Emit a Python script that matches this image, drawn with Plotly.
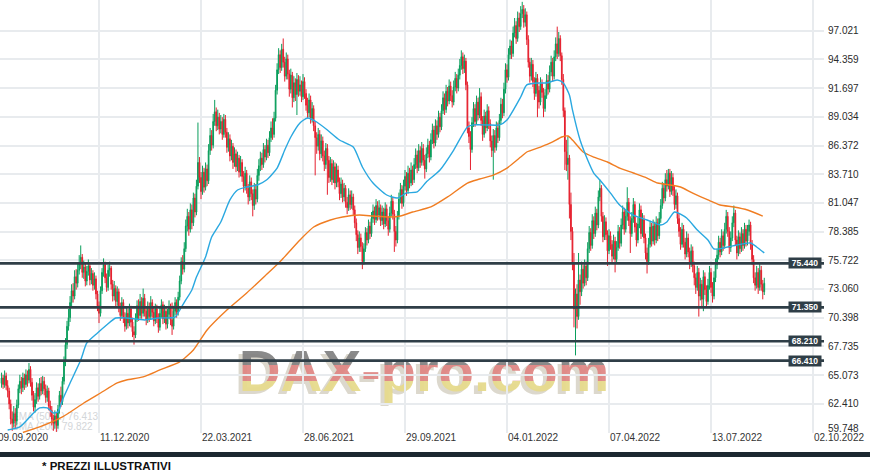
import plotly.graph_objects as go

# ---------------- data ----------------
first_open = 64.3

close = [
    64.8, 64.2, 65.0, 64.1, 63.6, 62.4, 61.0, 60.6, 61.5, 60.8,
    62.3, 63.8, 64.5, 63.9, 64.8, 64.2, 65.1, 64.6, 65.6, 64.4,
    63.2, 62.1, 62.8, 63.9, 63.1, 64.3, 63.6, 64.5, 63.8, 63.0,
    63.6, 62.2, 61.8, 61.0, 60.6, 61.3, 60.4, 61.9, 63.2, 62.6,
    64.5, 66.3, 67.9, 69.6, 70.4, 71.8, 72.9, 72.4, 74.2, 73.6,
    74.8, 75.4, 76.0, 74.6, 75.1, 73.8, 74.7, 75.2, 73.9, 74.5,
    73.4, 74.0, 72.6, 71.5, 70.8, 72.9, 74.6, 75.3, 74.1, 73.2,
    74.8, 75.0, 73.5, 72.4, 73.1, 71.9, 72.8, 71.4, 70.6, 71.8,
    70.4, 69.6, 70.8, 69.9, 71.2, 70.0, 69.1, 68.8, 70.3, 71.5,
    70.6, 71.9, 70.8, 72.2, 71.0, 70.2, 71.4, 70.5, 71.8, 70.9,
    70.1, 71.2, 70.4, 69.5, 70.8, 71.6, 70.3, 71.0, 69.8, 70.7,
    71.4, 70.2, 69.6, 71.0, 71.8, 70.9, 72.3, 73.8, 75.6, 74.9,
    76.8, 78.9, 79.8, 78.6, 80.4, 79.2, 81.5, 80.2, 82.6, 84.8,
    83.4, 82.1, 83.9, 82.5, 84.2, 83.1, 85.9, 87.3, 86.4, 88.6,
    89.5, 88.2, 89.0, 87.9, 88.6, 87.4, 88.8, 87.6, 86.2, 87.0,
    85.4, 86.3, 84.8, 85.6, 84.4, 85.2, 83.9, 84.8, 83.5, 82.6,
    83.8, 82.4, 81.6, 83.0, 81.9, 80.8, 82.3, 81.4, 83.6, 84.5,
    85.2, 84.6, 86.0, 85.3, 86.4, 85.7, 87.1, 88.0, 87.4, 88.9,
    91.5, 93.4, 94.8, 93.6, 95.3, 94.1, 92.8, 94.4, 93.0, 91.6,
    92.9, 90.8, 92.2, 91.1, 92.5, 91.4, 92.0, 90.9, 92.3, 91.2,
    90.1, 89.4, 90.6, 88.9, 89.8, 88.2, 87.1, 86.3, 87.4, 85.6,
    86.8, 85.4, 84.6, 86.1, 85.0, 83.4, 84.7, 83.2, 84.4, 82.9,
    84.1, 83.0, 81.9, 82.8, 81.6, 82.4, 81.1, 80.6, 81.8, 80.9,
    81.6, 80.4, 79.2, 78.1, 76.9, 77.8, 77.0, 75.6, 76.8, 78.3,
    77.6, 78.9, 78.2, 79.6, 80.3, 79.5, 80.8, 79.9, 80.6, 79.4,
    80.2, 79.1, 80.5, 79.4, 78.6, 80.1, 81.2, 80.0, 78.4, 77.6,
    79.8, 81.4, 82.3, 81.0, 82.6, 83.5, 82.2, 83.8, 82.9, 84.1,
    83.2, 84.6, 85.5, 84.3, 85.9, 84.8, 86.1, 85.0, 84.2, 85.6,
    86.4, 85.3, 86.9, 87.8, 86.6, 88.2, 87.4, 89.0, 88.1, 89.6,
    90.8, 89.7, 91.4, 90.5, 91.9, 91.0, 90.4, 91.8, 92.6, 91.7,
    92.9, 93.8, 94.6, 93.5, 94.2, 92.0, 88.0, 87.2, 86.0, 88.5,
    89.8, 88.6, 90.4, 89.2, 90.9, 88.7, 87.4, 89.1, 88.0, 89.6,
    88.4, 86.8, 85.9, 87.3, 86.2, 88.0, 87.1, 88.7, 90.2, 89.4,
    91.6, 93.4, 92.7, 94.8, 95.6, 94.9, 96.8, 97.5, 96.3, 98.2,
    97.4, 98.6, 99.0, 97.8, 98.5, 96.2, 94.1, 92.8, 93.9, 92.3,
    91.2, 92.6, 91.5, 90.4, 92.1, 91.3, 89.8, 91.0, 92.4, 91.6,
    93.2, 94.1, 92.8, 94.6, 95.8, 94.9, 96.3, 94.7, 92.5, 89.6,
    85.8, 84.6, 85.2, 80.9, 78.4, 75.5, 71.2, 72.6, 70.5, 73.9,
    72.8, 74.9, 73.6, 75.2, 74.1, 76.8, 78.3, 77.1, 79.4, 78.2,
    80.1, 79.0, 81.6, 82.4, 79.8, 77.9, 79.3, 78.1, 76.6, 78.0,
    77.2, 76.1, 77.5, 75.8, 76.9, 78.4, 77.3, 79.0, 80.2, 78.6,
    79.8, 81.1, 79.4, 78.2, 79.6, 80.9, 78.8, 77.6, 79.1, 80.4,
    78.2, 79.5, 77.8, 76.4, 75.6, 77.2, 78.8, 77.5, 78.9, 77.6,
    79.2, 78.0, 79.6, 80.8, 82.4, 81.5, 83.2, 82.6, 83.8, 82.1,
    83.4, 82.2, 80.9, 81.7, 79.6, 78.4, 77.2, 78.6, 77.4, 76.3,
    77.8, 76.5, 75.4, 76.6, 75.2, 74.1, 73.2, 74.6, 72.4, 73.5,
    72.1, 74.2, 73.0, 71.9, 73.4, 74.6, 73.2, 72.4, 74.1, 75.3,
    76.2, 77.4, 76.5, 78.0, 77.1, 78.6, 79.8, 78.4, 76.9, 77.8,
    79.2, 80.1, 77.6, 76.4, 77.9, 76.8, 78.2, 77.1, 78.6, 77.5,
    78.4, 79.0, 77.2, 75.8, 74.1, 73.4, 74.6, 73.2, 74.8, 73.5,
    72.8, 73.6,
]

high = [
    65.3, 65.1, 65.5, 65.3, 64.6, 63.9, 62.8, 61.7, 62.2, 62.0,
    62.8, 64.2, 65.1, 64.9, 65.3, 65.2, 65.6, 65.5, 66.2, 65.9,
    64.8, 63.6, 63.4, 64.4, 64.3, 64.8, 64.9, 65.0, 64.9, 64.2,
    64.1, 63.9, 62.7, 62.2, 61.4, 61.8, 61.6, 62.3, 63.6, 64.0,
    64.9, 66.8, 68.5, 70.1, 71.2, 72.4, 73.5, 73.6, 74.8, 74.9,
    75.4, 76.2, 77.1, 76.3, 75.7, 75.4, 75.2, 75.8, 75.5, 75.0,
    74.8, 74.6, 74.3, 72.9, 71.9, 73.3, 75.0, 75.9, 75.6, 74.5,
    75.3, 75.6, 75.2, 73.9, 73.8, 73.4, 73.3, 73.1, 71.8, 72.3,
    72.1, 70.9, 71.3, 71.2, 71.7, 71.5, 70.4, 69.6, 70.8, 72.0,
    72.1, 72.6, 72.3, 73.1, 72.6, 71.4, 71.9, 71.8, 72.4, 72.1,
    71.3, 71.7, 71.6, 70.8, 71.3, 72.1, 71.9, 71.6, 71.3, 71.2,
    72.0, 71.7, 71.8, 71.5, 72.3, 72.1, 72.8, 74.3, 76.0, 76.2,
    77.4, 79.5, 80.5, 80.2, 81.0, 80.9, 82.0, 81.9, 83.2, 88.5,
    85.3, 83.9, 84.5, 84.3, 84.8, 84.6, 86.5, 88.0, 87.8, 89.3,
    90.6, 89.9, 89.7, 89.4, 89.2, 89.0, 89.3, 89.2, 88.0, 87.6,
    87.4, 86.9, 86.6, 86.2, 86.0, 85.8, 85.5, 85.4, 85.1, 84.0,
    84.4, 84.1, 82.8, 83.6, 83.4, 82.3, 82.9, 82.8, 84.2, 85.1,
    85.8, 85.7, 86.6, 86.4, 87.0, 86.9, 87.7, 88.6, 88.9, 89.5,
    92.0, 94.0, 95.4, 95.2, 95.8, 96.3, 94.6, 95.0, 94.8, 93.4,
    93.5, 93.2, 92.8, 92.6, 93.1, 92.9, 92.8, 92.4, 93.0, 92.7,
    91.6, 90.8, 91.2, 91.0, 90.4, 90.1, 88.6, 87.6, 88.0, 87.8,
    87.4, 87.2, 85.9, 86.6, 86.5, 85.4, 85.3, 85.1, 85.0, 84.8,
    84.7, 84.5, 83.4, 83.4, 83.2, 82.9, 82.7, 81.6, 82.4, 82.2,
    82.2, 81.9, 80.8, 79.6, 78.5, 78.4, 78.2, 77.4, 77.3, 78.8,
    78.7, 79.5, 79.3, 80.2, 80.9, 80.7, 81.4, 81.2, 81.3, 80.9,
    80.8, 80.6, 81.1, 80.9, 79.8, 80.7, 81.8, 81.6, 80.4, 78.9,
    80.3, 82.0, 82.9, 82.7, 83.2, 84.1, 83.9, 84.5, 84.3, 84.8,
    84.5, 85.2, 86.1, 85.9, 86.5, 86.3, 86.7, 86.5, 85.5, 86.2,
    87.0, 86.8, 87.5, 88.4, 88.2, 88.8, 88.7, 89.6, 89.4, 90.2,
    91.4, 91.2, 92.0, 91.8, 92.5, 92.3, 91.5, 92.4, 93.2, 93.0,
    93.5, 94.4, 95.2, 95.0, 94.8, 94.5, 92.3, 88.6, 87.7, 89.0,
    90.4, 90.2, 91.0, 90.8, 91.7, 91.3, 89.1, 89.7, 89.5, 90.2,
    90.0, 88.8, 87.3, 87.9, 87.8, 88.6, 88.5, 89.3, 90.8, 90.7,
    92.2, 94.0, 93.9, 95.4, 96.2, 96.1, 97.4, 98.2, 97.9, 98.8,
    98.7, 99.3, 99.7, 99.4, 99.1, 98.8, 96.6, 94.5, 94.5, 94.3,
    92.7, 93.2, 93.0, 91.9, 92.7, 92.5, 91.7, 91.6, 93.0, 92.9,
    93.8, 94.7, 94.5, 95.2, 96.4, 97.4, 96.9, 96.6, 95.0, 93.0,
    89.9, 86.9, 87.2, 85.5, 82.0, 78.8, 76.4, 73.1, 73.5, 76.4,
    74.4, 75.6, 75.3, 75.8, 75.6, 77.4, 78.9, 78.7, 80.0, 79.8,
    80.7, 80.5, 82.2, 83.2, 82.7, 80.2, 79.9, 79.7, 78.5, 78.6,
    78.4, 77.6, 78.1, 77.9, 77.5, 79.0, 78.8, 79.6, 80.8, 80.6,
    80.4, 82.5, 81.5, 79.8, 80.2, 81.5, 81.2, 79.2, 79.7, 81.0,
    80.8, 80.1, 79.9, 78.2, 76.9, 77.8, 79.4, 79.2, 79.5, 79.3,
    79.8, 79.6, 80.2, 81.4, 83.0, 82.9, 83.8, 84.1, 84.2, 84.2,
    84.0, 83.8, 82.6, 82.3, 82.0, 80.0, 78.8, 79.2, 79.0, 77.8,
    78.4, 78.2, 76.9, 77.2, 77.0, 75.6, 74.5, 75.2, 75.0, 74.1,
    73.9, 74.8, 74.6, 73.4, 74.0, 75.2, 75.0, 73.7, 74.7, 75.9,
    76.8, 78.0, 77.8, 78.6, 78.4, 79.2, 80.4, 80.2, 78.8, 78.4,
    79.8, 80.8, 80.4, 78.0, 78.5, 78.3, 78.8, 78.6, 79.2, 79.0,
    79.0, 79.5, 79.3, 77.6, 76.2, 74.6, 75.2, 75.0, 75.4, 75.2,
    73.9, 74.1,
]

low = [
    63.9, 63.8, 63.9, 63.7, 63.0, 61.9, 60.5, 59.9, 60.2, 60.1,
    60.4, 62.0, 63.4, 63.3, 63.5, 63.7, 63.9, 64.0, 64.3, 64.0,
    62.7, 61.7, 61.6, 62.4, 62.6, 62.8, 63.2, 63.3, 63.2, 62.5,
    62.6, 61.8, 61.2, 60.4, 59.9, 60.1, 59.8, 60.1, 61.5, 62.1,
    62.3, 64.2, 65.9, 67.5, 69.2, 70.0, 71.4, 71.8, 72.1, 73.0,
    73.2, 74.4, 74.9, 74.1, 74.0, 73.3, 73.4, 74.3, 73.4, 73.5,
    72.9, 73.0, 72.1, 71.0, 69.9, 70.5, 72.6, 74.2, 73.6, 72.8,
    72.9, 74.2, 73.0, 71.9, 72.0, 71.4, 71.5, 70.9, 70.1, 70.3,
    69.9, 69.1, 69.3, 69.4, 69.6, 69.5, 68.6, 67.9, 68.5, 70.0,
    70.1, 70.3, 70.3, 70.5, 70.5, 69.7, 69.9, 70.0, 70.2, 70.4,
    69.6, 69.8, 69.9, 69.0, 69.2, 70.4, 69.8, 69.9, 69.3, 69.4,
    70.3, 69.7, 68.8, 69.3, 70.6, 70.4, 70.6, 72.0, 73.5, 74.4,
    74.6, 76.5, 78.4, 78.0, 78.3, 78.6, 78.9, 79.7, 79.9, 82.3,
    82.9, 81.4, 81.8, 82.0, 82.2, 82.6, 82.8, 85.5, 85.9, 86.1,
    88.2, 87.7, 87.8, 87.4, 87.5, 86.9, 87.1, 87.1, 85.7, 85.8,
    84.9, 85.0, 84.2, 84.4, 83.9, 84.0, 83.4, 83.5, 83.0, 82.0,
    82.2, 81.9, 80.9, 81.2, 81.3, 79.8, 80.4, 80.9, 81.1, 83.1,
    84.0, 84.1, 84.3, 84.8, 85.0, 85.2, 85.4, 86.7, 86.9, 87.1,
    88.6, 91.1, 93.0, 93.1, 93.3, 93.6, 92.3, 92.5, 92.5, 90.9,
    91.2, 89.9, 90.4, 90.5, 89.2, 90.9, 91.0, 90.4, 90.6, 90.7,
    89.6, 88.9, 89.0, 88.4, 88.5, 87.7, 83.6, 85.6, 85.9, 85.0,
    85.2, 84.9, 84.0, 84.2, 81.8, 82.9, 83.0, 82.7, 82.9, 82.3,
    82.5, 82.5, 81.3, 81.5, 81.1, 81.2, 80.6, 80.0, 80.3, 80.4,
    80.5, 79.9, 78.7, 77.5, 76.3, 76.5, 76.5, 74.9, 75.3, 76.5,
    77.1, 77.3, 77.7, 77.9, 79.2, 79.0, 79.2, 79.4, 79.5, 78.9,
    79.0, 78.6, 78.8, 78.9, 78.0, 78.3, 79.8, 79.5, 76.5, 77.0,
    77.3, 79.5, 81.0, 80.5, 80.7, 82.2, 81.7, 81.9, 82.4, 82.6,
    82.7, 82.9, 84.2, 83.8, 84.0, 84.3, 84.5, 84.5, 83.3, 83.9,
    85.2, 84.8, 85.0, 86.5, 86.1, 86.3, 86.9, 87.1, 87.6, 87.8,
    89.3, 89.2, 89.4, 90.0, 90.2, 90.5, 89.9, 90.1, 91.4, 91.2,
    91.4, 92.5, 93.4, 93.0, 93.1, 91.5, 87.5, 86.6, 84.1, 85.7,
    88.1, 88.1, 88.3, 88.7, 88.9, 88.2, 86.8, 87.1, 87.5, 87.7,
    87.9, 86.2, 85.3, 83.2, 85.7, 85.9, 86.6, 86.8, 88.3, 88.9,
    89.1, 91.2, 92.2, 92.4, 94.4, 94.4, 94.6, 96.4, 95.8, 96.0,
    96.9, 97.1, 98.2, 97.3, 97.4, 95.7, 93.6, 92.2, 92.4, 91.8,
    90.6, 90.9, 89.0, 89.8, 90.1, 90.8, 89.0, 89.5, 90.7, 91.1,
    91.3, 92.8, 92.3, 92.5, 94.2, 94.4, 94.6, 94.2, 92.0, 89.0,
    84.1, 84.0, 83.2, 79.6, 77.6, 74.8, 69.5, 66.9, 69.4, 70.2,
    71.6, 72.4, 73.1, 73.3, 73.4, 73.8, 76.4, 76.6, 76.8, 77.7,
    77.9, 78.5, 78.7, 81.2, 79.3, 77.4, 77.6, 77.6, 75.2, 76.3,
    76.7, 75.5, 75.8, 74.6, 75.5, 76.6, 76.8, 77.0, 78.6, 78.1,
    78.3, 79.4, 78.9, 76.4, 77.9, 79.2, 78.3, 77.0, 77.3, 78.7,
    77.7, 77.9, 77.3, 75.8, 74.5, 75.3, 76.9, 77.0, 77.2, 77.1,
    77.3, 77.5, 77.7, 79.2, 80.5, 81.0, 81.2, 82.1, 82.3, 81.6,
    81.8, 81.7, 80.4, 80.5, 79.1, 77.9, 76.7, 76.9, 76.9, 75.8,
    76.0, 76.0, 74.9, 75.1, 74.6, 73.4, 72.6, 72.9, 70.5, 72.0,
    71.4, 71.0, 72.5, 71.3, 71.6, 73.0, 72.7, 71.8, 72.1, 73.7,
    74.9, 75.8, 76.0, 76.2, 76.6, 76.8, 78.2, 77.9, 76.3, 76.5,
    77.5, 78.8, 77.1, 75.8, 76.1, 76.3, 76.5, 76.6, 76.8, 77.0,
    77.1, 78.0, 76.7, 75.3, 73.6, 72.9, 73.1, 72.6, 72.9, 72.9,
    72.1, 72.5,
]

# EMA(50) and SMA(200) lines (bar index, value)
ema_idx = [4, 12, 21, 25, 30, 34, 37, 40, 45, 52, 56, 63, 69, 75, 82, 94, 103, 114, 117,
           121, 125, 128, 134, 138, 144, 150, 155, 161, 168, 174, 181, 186, 190, 196, 201,
           207, 214, 222, 231, 237, 244, 253, 260, 266, 273, 279, 288, 297, 306, 310, 319,
           327, 332, 341, 345, 354, 358, 365, 369, 373, 375, 380, 385, 389, 393, 400, 406,
           415, 424, 433, 437, 442, 450, 457, 464, 468, 474, 483, 492, 496, 501]
ema_val = [59.98, 60.26, 61.56, 62.03, 62.03, 61.56, 61.66, 62.77, 64.34, 66.47, 68.05,
           68.98, 69.72, 70.37, 70.37, 70.19, 70.37, 70.46, 71.11, 72.04, 72.97, 74.17,
           76.03, 77.88, 79.27, 81.32, 82.24, 82.52, 82.71, 83.17, 84.28, 85.95, 87.16,
           88.46, 88.92, 88.55, 87.81, 86.88, 86.23, 84.38, 82.89, 81.78, 81.50, 81.97,
           82.06, 82.98, 84.10, 85.95, 88.09, 88.28, 88.28, 88.28, 88.74, 90.87, 91.99,
           92.17, 92.17, 92.45, 92.17, 91.06, 89.67, 86.88, 85.03, 83.82, 83.17, 81.96,
           80.85, 79.92, 79.46, 79.00, 79.27, 80.20, 79.65, 78.53, 77.60, 76.77, 76.86,
           77.14, 77.33, 76.96, 76.41]

sma_idx = [14, 25, 40, 54, 65, 76, 82, 93, 104, 117, 126, 135, 148, 161, 173, 184, 196,
           205, 216, 224, 235, 244, 255, 262, 270, 282, 293, 306, 314, 323, 332, 341, 345,
           354, 362, 368, 372, 375, 382, 389, 398, 406, 415, 424, 431, 439, 446, 454, 464,
           472, 481, 490, 500]
sma_val = [59.75, 60.26, 61.19, 62.48, 63.41, 64.34, 64.62, 64.90, 65.55, 66.29, 67.40,
           69.26, 71.11, 72.69, 74.27, 75.76, 77.60, 78.81, 79.46, 79.74, 79.92, 79.83,
           79.74, 79.83, 80.20, 80.67, 81.60, 82.89, 83.26, 83.63, 84.28, 85.30, 85.77,
           86.23, 86.70, 87.16, 87.25, 86.88, 85.77, 85.30, 84.84, 84.28, 83.82, 83.35,
           82.89, 82.71, 82.52, 81.96, 81.32, 80.85, 80.67, 80.39, 79.82]

ema_label = "EMA (50, 1) 76.413"
sma_label = "SMA (200) 79.822"

support_levels = [75.440, 71.350, 68.210, 66.410]
support_labels = ["75.440", "71.350", "68.210", "66.410"]

y_ticks = [59.748, 62.410, 65.073, 67.735, 70.398, 73.060, 75.722, 78.385,
           81.047, 83.710, 86.372, 89.034, 91.697, 94.359, 97.021]
y_tick_labels = ["59.748", "62.410", "65.073", "67.735", "70.398", "73.060", "75.722",
                 "78.385", "81.047", "83.710", "86.372", "89.034", "91.697", "94.359", "97.021"]

x_tick_idx = [-3, 64, 131, 198, 265, 332, 399, 466, 533]
x_tick_labels = ["09.09.2020", "11.12.2020", "22.03.2021", "28.06.2021", "29.09.2021",
                 "04.01.2022", "07.04.2022", "13.07.2022", "02.10.2022"]

watermark_text = "DAX-pro.com"
footer_text = "* PREZZI ILLUSTRATIVI"

assert len(close) == len(high) == len(low)

# ---------------- layout constants ----------------
W, H = 870, 475
ML, MR, MT, MB = 0, 46, 0, 42
PW, PH = W - ML - MR, H - MT - MB          # plot area in px
X_RANGE = [-1.03, 540.23]
Y_RANGE = [59.70, 99.87]

def px_x(p):      # pixel x (from plot left) -> paper
    return p / PW

def px_y(p):      # pixel y (from plot top) -> paper
    return (PH - p) / PH

def idx_paper(i):
    return (i - X_RANGE[0]) / (X_RANGE[1] - X_RANGE[0])

opens = [first_open] + close[:-1]
x = list(range(len(close)))

GREEN = "#0a9e5c"
RED = "#e5202e"
DARK = "#2f3e47"
FONT = "Liberation Sans, Arial, sans-serif"
WM_FONT = "Liberation Sans, Arial, sans-serif"
WM_SIZE = 58

fig = go.Figure()

# ---- watermark (behind the chart): shadow + three flag bands, each clipped to its band
wm_x, wm_y = px_x(424), px_y(376)
band_top, band_mid = px_y(365), px_y(381)
bands = [
    ("x", "y", [0, 1], "#dcd8cd", -4, 3),
    ("x2", "y2", [band_top, 1], "rgba(128,128,128,0.92)", 0, 0),
    ("x3", "y3", [band_mid, band_top], "rgba(222,132,130,0.92)", 0, 0),
    ("x4", "y4", [0, band_mid], "rgba(230,218,140,0.95)", 0, 0),
]
for xa, ya, dom, col, dx, dy in bands:
    fig.add_trace(go.Scatter(
        x=[wm_x + dx / PW], y=[wm_y - dy / PH], mode="text", text=[watermark_text],
        textposition="middle center", cliponaxis=True, hoverinfo="skip", showlegend=False,
        textfont=dict(size=WM_SIZE, color=col, family=WM_FONT, weight=700),
        xaxis=xa, yaxis=ya))

# faint legend text (behind candles)
fig.add_trace(go.Scatter(
    x=[px_x(12), px_x(12)], y=[px_y(417), px_y(427)], mode="text",
    text=[ema_label, sma_label], textposition="middle right", cliponaxis=True,
    hoverinfo="skip", showlegend=False,
    textfont=dict(size=10, color="#d3d6d9", family=FONT), xaxis="x", yaxis="y"))

# ---- main chart on x5/y5 (drawn last = on top)
fig.add_trace(go.Candlestick(
    x=x, open=opens, high=high, low=low, close=close,
    increasing=dict(line=dict(color=GREEN, width=1), fillcolor=GREEN),
    decreasing=dict(line=dict(color=RED, width=1), fillcolor=RED),
    whiskerwidth=0, hoverinfo="skip", showlegend=False, xaxis="x5", yaxis="y5"))

fig.add_trace(go.Scatter(x=sma_idx, y=sma_val, mode="lines", line=dict(color="#f07d22", width=1.4, shape="spline", smoothing=0.6),
                         hoverinfo="skip", showlegend=False, xaxis="x5", yaxis="y5"))
fig.add_trace(go.Scatter(x=ema_idx, y=ema_val, mode="lines", line=dict(color="#2aa8e0", width=1.4, shape="spline", smoothing=0.6),
                         hoverinfo="skip", showlegend=False, xaxis="x5", yaxis="y5"))

shapes = []
annotations = []
for lvl, lab in zip(support_levels, support_labels):
    shapes.append(dict(type="line", xref="paper", yref="y5", x0=0, x1=1, y0=lvl, y1=lvl,
                       line=dict(color=DARK, width=2.6), layer="above"))
    annotations.append(dict(xref="paper", yref="y5", x=px_x(822), y=lvl, xanchor="right", yanchor="middle",
                            text="<b>%s</b>" % lab, showarrow=False, bgcolor=DARK, width=32, height=10,
                            borderpad=0, font=dict(size=8.5, color="white", family=FONT)))

# y-axis value labels (right side); the lowest one is nudged up inside the frame
for k, (v, lab) in enumerate(zip(y_ticks, y_tick_labels)):
    annotations.append(dict(xref="paper", yref="y5", x=px_x(827), y=v, xanchor="left", yanchor="middle",
                            text=lab, showarrow=False, borderpad=0, yshift=4 if k == 0 else 0,
                            font=dict(size=10, color="#2b2b2b", family=FONT)))

for i, lab in zip(x_tick_idx, x_tick_labels):
    annotations.append(dict(xref="paper", yref="paper", x=idx_paper(i), y=px_y(437),
                            xanchor="left", yanchor="middle", text=lab, showarrow=False,
                            borderpad=0, font=dict(size=10, color="#333333", family=FONT)))

# bottom dark bar and footer note
shapes.append(dict(type="rect", xref="paper", yref="paper", x0=-0.01, x1=W / PW + 0.01,
                   y0=px_y(457), y1=px_y(452), fillcolor="#1c2830", line=dict(width=0), layer="above"))
annotations.append(dict(xref="paper", yref="paper", x=px_x(40), y=px_y(466), xanchor="left",
                        yanchor="middle", text="<b>%s</b>" % footer_text, showarrow=False,
                        font=dict(size=11.5, color="#111111", family=FONT)))

hidden = dict(visible=False, fixedrange=True, autorange=False)
layout_axes = {}
for k, (xa, ya, dom, *_r) in enumerate(bands):
    xn = "xaxis" if xa == "x" else "xaxis" + xa[1:]
    yn = "yaxis" if ya == "y" else "yaxis" + ya[1:]
    layout_axes[xn] = dict(hidden, domain=[0, 1], range=[0, 1], anchor=ya)
    layout_axes[yn] = dict(hidden, domain=dom, range=dom, anchor=xa)

fig.update_layout(
    width=W, height=H,
    margin=dict(l=ML, r=MR, t=MT, b=MB),
    paper_bgcolor="white", plot_bgcolor="rgba(0,0,0,0)",
    showlegend=False, hovermode=False,
    shapes=shapes, annotations=annotations,
    xaxis5=dict(domain=[0, 1], anchor="y5", range=X_RANGE, tickvals=x_tick_idx, showticklabels=False,
                showgrid=True, gridcolor="#e8ebee", gridwidth=1.5, zeroline=False, showline=False,
                ticks="", rangeslider=dict(visible=False), fixedrange=True),
    yaxis5=dict(domain=[0, 1], anchor="x5", side="right", range=Y_RANGE, tickvals=y_ticks,
                showticklabels=False, showgrid=True, gridcolor="#e8ebee", gridwidth=1.5,
                zeroline=False, showline=False, ticks="", fixedrange=True),
    **layout_axes,
)

fig.write_html("out.html", config={"displayModeBar": False},
               post_script="document.body.style.margin='0';document.body.style.overflow='hidden';")
